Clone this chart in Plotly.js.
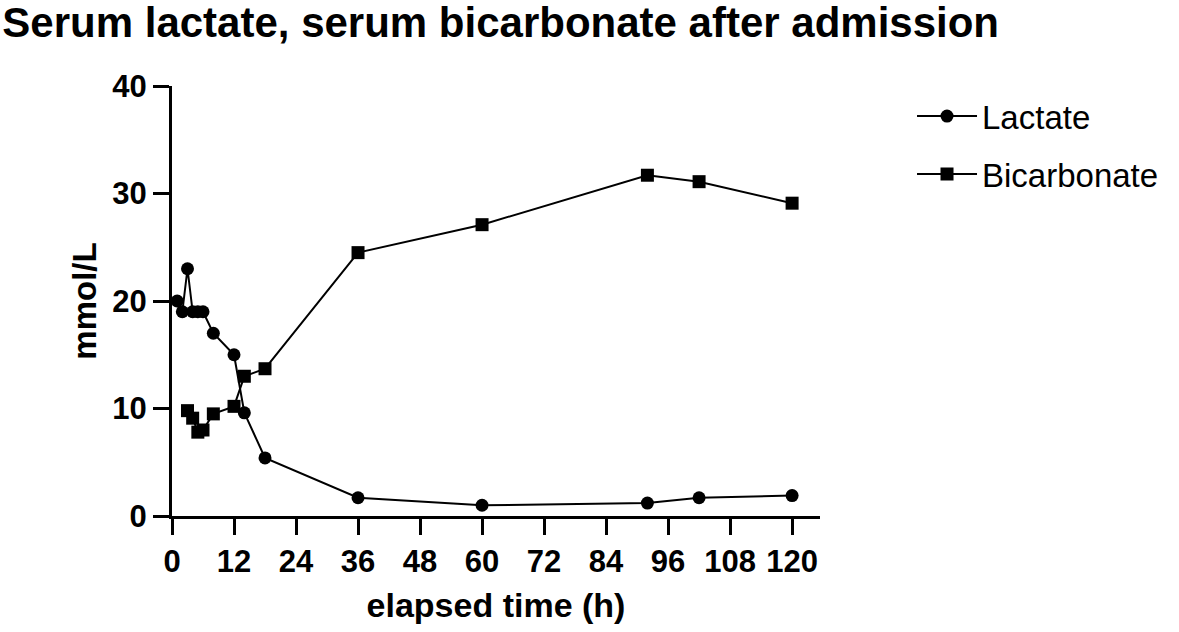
<!DOCTYPE html>
<html>
<head>
<meta charset="utf-8">
<script src="https://cdn.plot.ly/plotly-3.0.1.min.js"></script>
<style>
  body { margin: 0; background: #fff; }
  #chart { width: 1179px; height: 632px; }
</style>
</head>
<body>
<div id="chart"></div>
<script>
// elapsed time (h) and values (mmol/L)
var lactateHours = [1, 2, 3, 4, 5, 6, 8, 12, 14, 18, 36, 60, 92, 102, 120];
var lactate = [20, 19, 23, 19, 19, 19, 17, 15, 9.6, 5.4, 1.7, 1.0, 1.2, 1.7, 1.9];

var bicarbHours = [3, 4, 5, 6, 8, 12, 14, 18, 36, 60, 92, 102, 120];
var bicarbonate = [9.8, 9.1, 7.8, 8.0, 9.5, 10.2, 13.0, 13.7, 24.5, 27.1, 31.7, 31.1, 29.1];

var xTicks = [0, 12, 24, 36, 48, 60, 72, 84, 96, 108, 120];
var yTicks = [0, 10, 20, 30, 40];

var font = "Liberation Sans, Arial, Helvetica, sans-serif";

var traces = [
  {
    x: lactateHours,
    y: lactate,
    name: "Lactate",
    legendgroup: "a",
    mode: "lines+markers",
    line: { color: "black", width: 2 },
    marker: { symbol: "circle", size: 13, color: "black" },
    cliponaxis: false,
  },
  {
    x: bicarbHours,
    y: bicarbonate,
    name: "Bicarbonate",
    legendgroup: "b",
    mode: "lines+markers",
    line: { color: "black", width: 2 },
    marker: { symbol: "square", size: 13, color: "black" },
    cliponaxis: false,
  },
];

var axisCommon = {
  showgrid: false,
  zeroline: false,
  showline: true,
  linecolor: "black",
  linewidth: 3,
  ticks: "outside",
  ticklen: 16,
  tickwidth: 3,
  tickcolor: "black",
  tickfont: { family: font, size: 31, color: "black", weight: 700 },
  fixedrange: true,
};

var layout = {
  width: 1179,
  height: 632,
  margin: { l: 172, r: 359, t: 86, b: 116 },
  paper_bgcolor: "white",
  plot_bgcolor: "white",
  title: {
    text: "Serum lactate, serum bicarbonate after admission",
    font: { family: font, size: 42, color: "black", weight: 700 },
    xref: "container",
    yref: "container",
    x: 0.002,
    xanchor: "left",
    y: 0.965,
    yanchor: "middle",
  },
  xaxis: Object.assign({}, axisCommon, {
    range: [0, 125.4],
    tickvals: xTicks,
    title: {
      text: "elapsed time (h)",
      font: { family: font, size: 34, color: "black", weight: 700 },
      standoff: 15,
    },
  }),
  yaxis: Object.assign({}, axisCommon, {
    range: [0, 40],
    tickvals: yTicks,
    title: {
      text: "mmol/L",
      font: { family: font, size: 33, color: "black", weight: 700 },
      standoff: 6,
    },
  }),
  showlegend: true,
  legend: {
    x: 1.142,
    y: 0.995,
    xanchor: "left",
    yanchor: "top",
    traceorder: "grouped",
    tracegroupgap: 12,
    itemwidth: 60,
    font: { family: font, size: 33, color: "black" },
    bgcolor: "rgba(0,0,0,0)",
  },
};

Plotly.newPlot("chart", traces, layout, { displayModeBar: false, staticPlot: true });
</script>
</body>
</html>
